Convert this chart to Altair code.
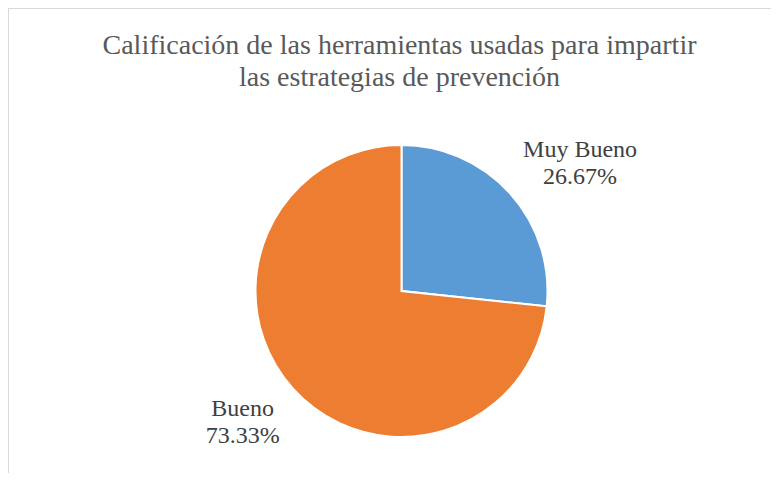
import altair as alt
import pandas as pd

categories = ["Muy Bueno", "Bueno"]
values = [26.67, 73.33]
labels = ["26.67%", "73.33%"]
order = [1, 2]
colors = ["#5B9BD5", "#ED7D31"]

df = pd.DataFrame({
    "cat": categories,
    "val": values,
    "pct": labels,
    "ord": order,
})
df["lbl"] = df["cat"] + "\n" + df["pct"]

W, H = 763, 465
CX, CY = 393.5, 283
FONT = "'Times New Roman', 'Liberation Serif', 'DejaVu Serif', serif"
theta_scale = alt.Scale(domain=[0, sum(values)])

base = alt.Chart(df).transform_window(
    end="sum(val)", sort=[alt.SortField("ord")], frame=[None, 0]
).transform_calculate(
    start="datum.end - datum.val",
    mid="datum.end - datum.val / 2",
)

pie = base.mark_arc(radius=146, stroke="white", strokeWidth=2).encode(
    theta=alt.Theta("start:Q", stack=None, scale=theta_scale),
    theta2="end:Q",
    color=alt.Color("cat:N", scale=alt.Scale(domain=categories, range=colors), legend=None),
    x=alt.value(CX),
    y=alt.value(CY),
)

txt_common = dict(font=FONT, fontSize=24, color="#404040",
                  lineBreak="\n", lineHeight=27, align="center", baseline="middle")

lab1 = base.transform_filter(alt.datum.cat == "Muy Bueno").mark_text(
    radius=212, dx=21, dy=1, **txt_common
).encode(theta=alt.Theta("mid:Q", stack=None, scale=theta_scale), text="lbl:N",
         x=alt.value(CX), y=alt.value(CY))

lab2 = base.transform_filter(alt.datum.cat == "Bueno").mark_text(
    radius=207, dx=-5, dy=-20, **txt_common
).encode(theta=alt.Theta("mid:Q", stack=None, scale=theta_scale), text="lbl:N",
         x=alt.value(CX), y=alt.value(CY))

border_top = alt.Chart(df).mark_rule(color="#d9d9d9", strokeWidth=1).encode(
    x=alt.value(0), x2=alt.value(W), y=alt.value(0.5)
)
border_left = alt.Chart(df).mark_rule(color="#d9d9d9", strokeWidth=1).encode(
    x=alt.value(0.5), y=alt.value(0), y2=alt.value(H)
)

chart = alt.layer(border_top, border_left, pie, lab1, lab2).properties(
    width=W,
    height=H,
    padding=0,
    autosize=alt.AutoSizeParams(type="none"),
    title=alt.TitleParams(
        text=["Calificación de las herramientas usadas para impartir",
              "las estrategias de prevención"],
        font=FONT,
        fontSize=28,
        fontWeight="normal",
        color="#595959",
        lineHeight=32,
        anchor="middle",
        baseline="alphabetic",
        offset=-106,
        dx=10,
    ),
).configure_view(stroke=None)

chart.save("out.html", embed_options={"renderer": "svg", "actions": False})
